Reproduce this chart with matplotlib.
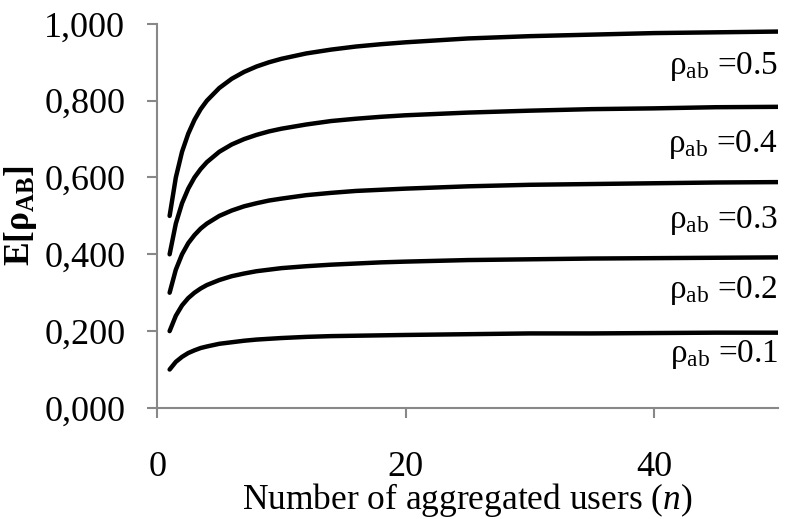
import matplotlib
matplotlib.use("Agg")
import matplotlib.pyplot as plt

plt.rcParams['font.family'] = ['Liberation Serif', 'DejaVu Serif']
plt.rcParams['mathtext.fontset'] = 'custom'
plt.rcParams['mathtext.rm'] = 'Liberation Serif'
plt.rcParams['mathtext.it'] = 'Liberation Serif:italic'
plt.rcParams['mathtext.bf'] = 'Liberation Serif:bold'

# values
n = [1, 1.5, 2, 2.5, 3, 3.5, 4, 5, 6, 7, 8, 9, 10, 12, 14, 16, 18, 20,
     25, 30, 35, 40, 45, 50]
e_05 = [0.500, 0.600, 0.667, 0.714, 0.750, 0.778, 0.800, 0.833, 0.857, 0.875,
        0.889, 0.900, 0.909, 0.923, 0.933, 0.941, 0.947, 0.952,
        0.962, 0.968, 0.972, 0.976, 0.978, 0.980]
e_04 = [0.400, 0.480, 0.533, 0.571, 0.600, 0.622, 0.640, 0.667, 0.686, 0.700,
        0.711, 0.720, 0.727, 0.738, 0.747, 0.753, 0.758, 0.762,
        0.769, 0.774, 0.778, 0.780, 0.783, 0.784]
e_03 = [0.300, 0.360, 0.400, 0.429, 0.450, 0.467, 0.480, 0.500, 0.514, 0.525,
        0.533, 0.540, 0.545, 0.554, 0.560, 0.565, 0.568, 0.571,
        0.577, 0.581, 0.583, 0.585, 0.587, 0.588]
e_02 = [0.200, 0.240, 0.267, 0.286, 0.300, 0.311, 0.320, 0.333, 0.343, 0.350,
        0.356, 0.360, 0.364, 0.369, 0.373, 0.376, 0.379, 0.381,
        0.385, 0.387, 0.389, 0.390, 0.391, 0.392]
e_01 = [0.100, 0.120, 0.133, 0.143, 0.150, 0.156, 0.160, 0.167, 0.171, 0.175,
        0.178, 0.180, 0.182, 0.185, 0.187, 0.188, 0.189, 0.190,
        0.192, 0.194, 0.194, 0.195, 0.196, 0.196]
series = [e_05, e_04, e_03, e_02, e_01]
labels = ['0.5', '0.4', '0.3', '0.2', '0.1']
label_y = [0.888, 0.685, 0.487, 0.305, 0.14]

yticks = [0.0, 0.2, 0.4, 0.6, 0.8, 1.0]
ytick_labels = ['0,000', '0,200', '0,400', '0,600', '0,800', '1,000']
xticks = [0, 20, 40]

fig = plt.figure(figsize=(7.86, 5.19), dpi=100)
ax = fig.add_axes([0.2, 0.214, 0.79, 0.74])

for ys in series:
    ax.plot(n, ys, color='black', lw=3.2, solid_capstyle='round',
            solid_joinstyle='round')

for lab, yy in zip(labels, label_y):
    ax.text(50, yy, 'ρ$_{\\mathrm{ab}}$ =' + lab, ha='right', va='center',
            fontsize=24)

ax.set_xlim(0, 50)
ax.set_ylim(0, 1.0)
ax.set_yticks(yticks)
ax.set_yticklabels(ytick_labels)
ax.set_xticks(xticks)
ax.tick_params(axis='both', labelsize=26, direction='out', length=7,
               width=1.5, color='#888888')
ax.tick_params(axis='x', pad=24)
ax.tick_params(axis='y', pad=16)

for side in ['top', 'right']:
    ax.spines[side].set_visible(False)
for side in ['left', 'bottom']:
    ax.spines[side].set_color('#888888')
    ax.spines[side].set_linewidth(1.5)

ax.set_xlabel('Number of aggregated users ($n$)', fontsize=25.5, labelpad=-2)
ax.set_ylabel('E[ρ$_{\\mathbf{AB}}$]', fontsize=25.5, fontweight='bold',
              labelpad=4)

fig.savefig('out.png', dpi=100)
